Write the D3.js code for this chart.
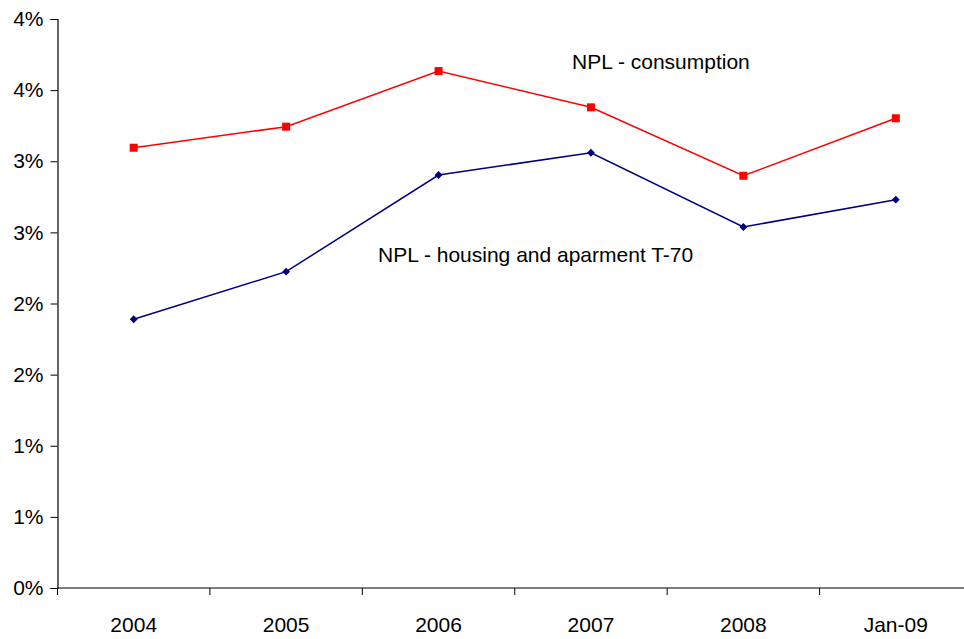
<!DOCTYPE html>
<html>
<head>
<meta charset="utf-8">
<script src="https://cdn.jsdelivr.net/npm/d3@7"></script>
<style>
  html, body { margin: 0; padding: 0; background: #fff; }
  svg { display: block; }
  text { font-family: "Liberation Sans", Arial, sans-serif; fill: #000; }
</style>
</head>
<body>
<svg id="chart" width="964" height="639"></svg>
<script>
const categories = ["2004", "2005", "2006", "2007", "2008", "Jan-09"];
const consumption = [3.095, 3.243, 3.634, 3.379, 2.898, 3.302];
const housing = [1.889, 2.224, 2.903, 3.060, 2.538, 2.730];
const yTickValues = [0, 0.5, 1, 1.5, 2, 2.5, 3, 3.5, 4];
const yTickLabels = ["0%", "1%", "1%", "2%", "2%", "3%", "3%", "4%", "4%"];
const labelConsumption = "NPL - consumption";
const labelHousing = "NPL - housing and aparment T-70";

const svg = d3.select("#chart");
const mLeft = 57.5, mRight = 972, mTop = 19, mBottom = 588;
const fontSize = 21;

const x = d3.scaleBand().domain(categories).range([mLeft, mRight]).padding(0);
const y = d3.scaleLinear().domain([0, 4]).range([mBottom, mTop]);

// Y axis
const yAxis = d3.axisLeft(y)
  .tickValues(yTickValues)
  .tickFormat((d, i) => yTickLabels[i])
  .tickSize(7)
  .tickPadding(7);
const gy = svg.append("g").attr("transform", `translate(${mLeft},0)`).call(yAxis);
gy.select(".domain").attr("stroke", "#000").attr("stroke-width", 1.2);
gy.selectAll(".tick line").attr("stroke", "#000");
gy.selectAll(".tick text").attr("font-size", fontSize)
  .attr("font-family", "Liberation Sans, Arial, sans-serif").attr("fill", "#000");

// X axis (ticks on band boundaries)
const xAxis = d3.axisBottom(x).tickSize(0).tickPadding(0);
const gx = svg.append("g").attr("transform", `translate(0,${mBottom})`).call(xAxis);
gx.select(".domain").remove();
gx.append("line").attr("x1", mLeft).attr("x2", mRight).attr("y1", 0).attr("y2", 0)
  .attr("stroke", "#000").attr("stroke-width", 1.2);
gx.selectAll(".tick text").attr("font-size", fontSize)
  .attr("font-family", "Liberation Sans, Arial, sans-serif").attr("fill", "#000")
  .attr("dy", null).attr("y", 44);
const boundaries = categories.map(c => x(c)).concat([x(categories[categories.length - 1]) + x.bandwidth()]);
gx.selectAll(".bound").data(boundaries).enter().append("line")
  .attr("class", "bound")
  .attr("x1", d => d).attr("x2", d => d).attr("y1", 0).attr("y2", 7)
  .attr("stroke", "#000");

const cx = d => x(d) + x.bandwidth() / 2;
const line = d3.line().x((d, i) => cx(categories[i])).y(d => y(d));

// Consumption series (red, squares)
svg.append("path").datum(consumption).attr("d", line)
  .attr("fill", "none").attr("stroke", "#ff0000").attr("stroke-width", 1.5);
svg.selectAll(".sq").data(consumption).enter().append("rect")
  .attr("class", "sq")
  .attr("x", (d, i) => cx(categories[i]) - 4)
  .attr("y", d => y(d) - 4)
  .attr("width", 8).attr("height", 8)
  .attr("fill", "#ff0000");

// Housing series (navy, diamonds)
svg.append("path").datum(housing).attr("d", line)
  .attr("fill", "none").attr("stroke", "#000080").attr("stroke-width", 1.5);
svg.selectAll(".dm").data(housing).enter().append("path")
  .attr("class", "dm")
  .attr("d", d3.symbol().type(d3.symbolDiamond2).size(40))
  .attr("transform", (d, i) => `translate(${cx(categories[i])},${y(d)})`)
  .attr("fill", "#000080");

// Annotations
svg.append("text").attr("x", 572).attr("y", 69).attr("font-size", fontSize).text(labelConsumption);
svg.append("text").attr("x", 378).attr("y", 262).attr("font-size", fontSize).text(labelHousing);
</script>
</body>
</html>
